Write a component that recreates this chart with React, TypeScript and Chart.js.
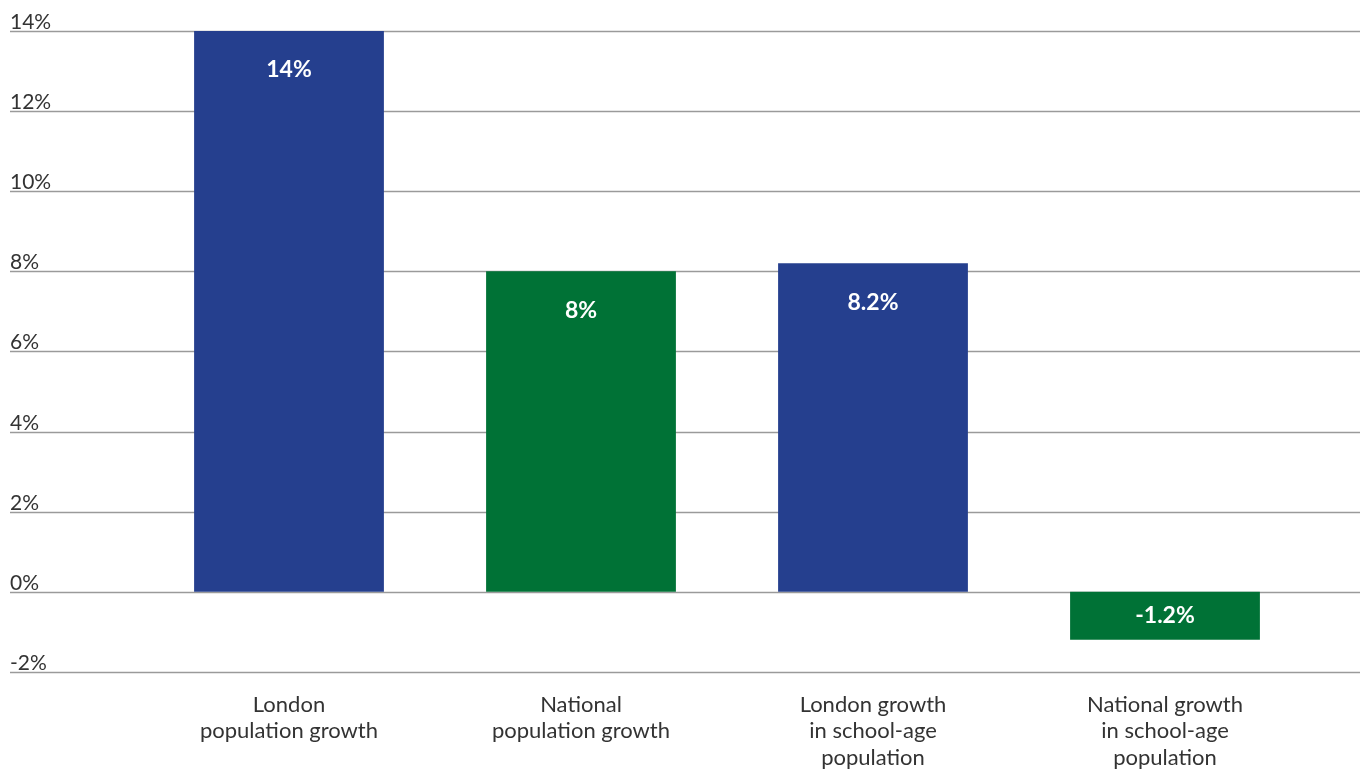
import React, { useEffect, useRef } from "react";
import { Chart, registerables } from "chart.js";

Chart.register(...registerables);

const categories: string[][] = [
  ["London", "population growth"],
  ["National", "population growth"],
  ["London growth", "in school-age", "population"],
  ["National growth", "in school-age", "population"],
];
const values: number[] = [14, 8, 8.2, -1.2];
const valueLabels: string[] = ["14%", "8%", "8.2%", "-1.2%"];
const barColors: string[] = ["#253f8e", "#007236", "#253f8e", "#007236"];
const yTicks: number[] = [-2, 0, 2, 4, 6, 8, 10, 12, 14];
const yTickLabels: string[] = ["-2%", "0%", "2%", "4%", "6%", "8%", "10%", "12%", "14%"];

const FONT = "Lato, 'Open Sans', sans-serif";

const gridPlugin = {
  id: "fullGrid",
  beforeDatasetsDraw(chart: any) {
    const ctx = chart.ctx;
    const y = chart.scales.y;
    ctx.save();
    yTicks.forEach((v, i) => {
      const py = Math.round(y.getPixelForValue(v)) + 0.5;
      ctx.strokeStyle = "#9a9a9a";
      ctx.lineWidth = 1.5;
      ctx.beginPath();
      ctx.moveTo(10, py);
      ctx.lineTo(1360, py);
      ctx.stroke();
      ctx.fillStyle = "#333333";
      ctx.font = `21px ${FONT}`;
      ctx.textAlign = "left";
      ctx.textBaseline = "alphabetic";
      ctx.fillText(yTickLabels[i], 10, py - 2.5);
    });
    ctx.restore();
  },
};

const valuePlugin = {
  id: "valueLabels",
  afterDatasetsDraw(chart: any) {
    const ctx = chart.ctx;
    const meta = chart.getDatasetMeta(0);
    ctx.save();
    ctx.fillStyle = "#ffffff";
    ctx.font = `bold 23px ${FONT}`;
    ctx.textAlign = "center";
    ctx.textBaseline = "middle";
    meta.data.forEach((bar: any, i: number) => {
      const v = values[i];
      const top = Math.min(bar.y, bar.base);
      const bottom = Math.max(bar.y, bar.base);
      const py = v >= 0 ? top + 39 : (top + bottom) / 2;
      ctx.fillText(valueLabels[i], bar.x, py);
    });
    ctx.restore();
  },
};

export default function App() {
  const ref = useRef<HTMLCanvasElement | null>(null);
  useEffect(() => {
    if (!ref.current) return;
    const chart = new Chart(ref.current, {
      type: "bar",
      data: {
        labels: categories,
        datasets: [
          {
            data: values,
            backgroundColor: barColors,
            borderWidth: 0,
            categoryPercentage: 1,
            barPercentage: 0.65,
          },
        ],
      },
      options: {
        responsive: false,
        animation: false,
        devicePixelRatio: 1,
        layout: { padding: { left: 143, right: 54, top: 31, bottom: 3 } },
        plugins: { legend: { display: false }, tooltip: { enabled: false } },
        scales: {
          y: { display: false, min: -2, max: 14 },
          x: {
            grid: { display: false, drawTicks: false },
            border: { display: false },
            ticks: {
              color: "#333333",
              font: { family: FONT, size: 22, lineHeight: 1.2 },
              padding: 20,
              maxRotation: 0,
              autoSkip: false,
            },
          },
        },
      },
      plugins: [gridPlugin, valuePlugin],
    });
    return () => chart.destroy();
  }, []);
  return (
    <div style={{ position: "absolute", left: 0, top: 0, width: 1365, height: 769, overflow: "hidden", background: "#fff" }}>
      <canvas ref={ref} width={1365} height={794} style={{ display: "block" }} />
    </div>
  );
}
